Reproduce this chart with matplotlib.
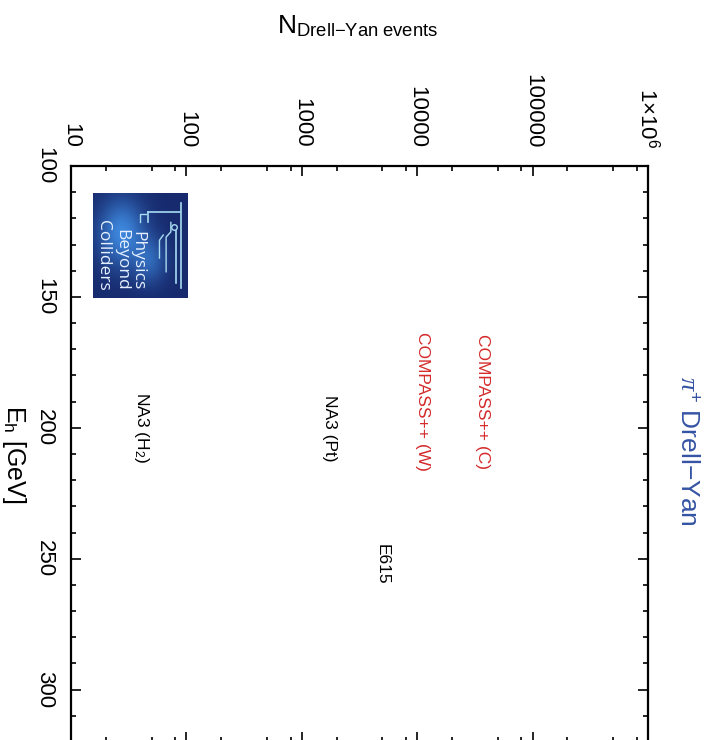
import numpy as np
import matplotlib
matplotlib.use("Agg")
import matplotlib.pyplot as plt
from matplotlib.ticker import LogLocator, MultipleLocator, FixedFormatter, NullFormatter
from matplotlib.colors import to_rgb

plt.rcParams['font.family'] = ['Liberation Sans', 'DejaVu Sans']
plt.rcParams['mathtext.fontset'] = 'custom'
plt.rcParams['mathtext.rm'] = 'Liberation Sans'
plt.rcParams['mathtext.it'] = 'Liberation Serif:italic'
plt.rcParams['mathtext.bf'] = 'Liberation Sans:bold'

# Experiments: beam energy (GeV) and expected number of Drell-Yan events
experiments = ['NA3 (H$_2$)', 'NA3 (Pt)', 'E615', 'COMPASS++ (W)', 'COMPASS++ (C)']
beam_energy = [200, 200, 252, 190, 190]
n_events = [41, 1750, 5000, 11200, 37000]
label_colors = ['black', 'black', 'black', '#d42a2a', '#d42a2a']

n_ticks = [10, 100, 1000, 10000, 100000, 1000000]
n_ticklabels = ['10', '100', '1000', '10000', '100000', r'1$\times$10$^{6}$']
e_range = (100, 320)

fig = plt.figure(figsize=(7.13, 7.40), dpi=100)
ax = fig.add_axes([0.0996, -0.0027, 0.8093, 0.7784])

# plot is drawn "sideways": energy runs down, event count runs across
ax.set_xscale('log')
ax.set_xlim(n_ticks[0], n_ticks[-1])
ax.set_ylim(e_range[1], e_range[0])

ax.xaxis.set_minor_locator(LogLocator(base=10, subs=[2.0, 5.0, 8.0]))
ax.set_xticks(n_ticks)
ax.xaxis.set_major_formatter(FixedFormatter(n_ticklabels))
ax.xaxis.set_minor_formatter(NullFormatter())
ax.yaxis.set_major_locator(MultipleLocator(50))
ax.yaxis.set_minor_locator(MultipleLocator(10))

ax.tick_params(axis='both', which='both', direction='in', top=True, bottom=True,
               left=True, right=True, labeltop=True, labelbottom=False,
               labelsize=16, width=1.2)
ax.tick_params(axis='both', which='major', length=7.2)
ax.tick_params(axis='both', which='minor', length=3.6)
ax.tick_params(axis='x', pad=13, labelrotation=-90)
ax.tick_params(axis='y', pad=11.5, labelrotation=-90)
for lab in ax.get_yticklabels():
    lab.set_va('center')
    lab.set_ha('right')
for sp in ax.spines.values():
    sp.set_linewidth(1.6)

ax.xaxis.set_label_position('top')
ax.set_xlabel(r'N$_{\rm Drell{-}Yan\ events}$', fontsize=19, va='baseline', ha='center')
ax.xaxis.set_label_coords(0.497, 1.231)
ax.set_ylabel(r'E$_{\rm h}$ [GeV]', fontsize=18, rotation=-90, va='center', ha='center')
ax.yaxis.set_label_coords(-0.098, 0.5)

ax.text(1.069, 0.505, '$\\pi^{+}$ Drell\u2212Yan', transform=ax.transAxes, rotation=-90,
        ha='center', va='center', fontsize=19, color='#3553a4')

for name, e, n, c in zip(experiments, beam_energy, n_events, label_colors):
    ax.text(n, e, name, rotation=-90, ha='center', va='center', fontsize=12.5, color=c)

# Physics Beyond Colliders badge
logo = fig.add_axes([0.1304, 0.5973, 0.1332, 0.1419])
u, v = np.meshgrid(np.linspace(0, 1, 120), np.linspace(0, 1, 120))
glow = (np.exp(-((u - 0.3) ** 2 / 0.06 + (v - 0.62) ** 2 / 0.10))
        + 0.6 * np.exp(-((u - 0.6) ** 2 / 0.03 + (v - 0.35) ** 2 / 0.05)))
glow = np.clip(glow, 0, 1)[..., None]
dark = np.array(to_rgb('#172a6e'))
bright = np.array(to_rgb('#3d86dc'))
logo.imshow(dark + (bright - dark) * glow, origin='lower', extent=[0, 1, 0, 1], aspect='auto')
logo.set_xlim(0, 1)
logo.set_ylim(0, 1)
logo.set_xticks([])
logo.set_yticks([])
for sp in logo.spines.values():
    sp.set_visible(False)

trace = '#a8dcf2'
logo.plot([0.926, 0.926], [0.905, 0.095], color=trace, lw=1.2)
logo.plot([0.874, 0.874], [0.64, 0.14], color=trace, lw=1.2)
logo.plot([0.853], [0.676], 'o', ms=4, mfc='none', mec=trace, mew=1.0)
logo.plot([0.58, 0.916], [0.82, 0.82], color=trace, lw=1.2)
logo.plot([0.58, 0.58], [0.82, 0.72], color=trace, lw=1.2)
logo.plot([0.50, 0.50, 0.56], [0.72, 0.80, 0.80], color=trace, lw=1.0)
logo.plot([0.77, 0.77, 0.82, 0.82], [0.25, 0.58, 0.63, 0.72], color=trace, lw=1.0)
logo.plot([0.70, 0.70, 0.74], [0.38, 0.55, 0.60], color=trace, lw=1.0)

for word, x in zip(['Physics', 'Beyond', 'Colliders'], [0.47, 0.30, 0.11]):
    logo.text(x, 0.07, word, rotation=-90, ha='center', va='bottom', fontsize=12.5,
              color='#e6f0ff', family='Open Sans')

fig.savefig('out.png', dpi=100)
